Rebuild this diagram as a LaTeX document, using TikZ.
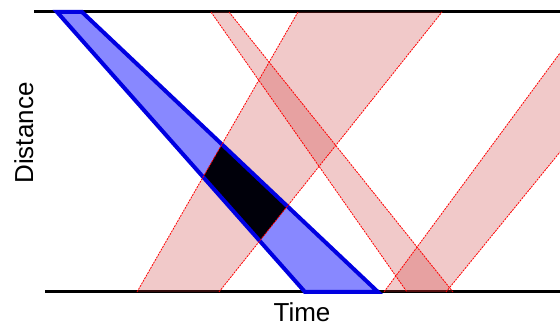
\documentclass[tikz,border=0pt]{standalone}
\usepackage{fontspec}
\setmainfont{Liberation Sans}
\definecolor{conered}{RGB}{200,40,40}
\definecolor{pulseblue}{RGB}{0,0,225}
\definecolor{pulsefill}{RGB}{136,136,255}
\begin{document}
\begin{tikzpicture}[
    x=1pt, y=-1pt,
    axisline/.style={line width=3pt},
    cone/.style={fill=conered, fill opacity=0.25},
    coneedge/.style={red, line width=0.8pt, dash pattern=on 2pt off 1pt},
    pulse/.style={fill=pulsefill},
    pulseedge/.style={draw=pulseblue, line width=4pt, line join=miter},
    axislabel/.style={font=\fontsize{26}{30}\selectfont, anchor=base}
]
\useasboundingbox (0,0) rectangle (560,331);

% corners
\coordinate (b1) at (57,12);
\coordinate (b2) at (82,12);
\coordinate (b3) at (378,292);
\coordinate (b4) at (305,292);
\coordinate (r1a) at (137,292);
\coordinate (r1b) at (219,292);
\coordinate (r1c) at (442,12);
\coordinate (r1d) at (298,12);
\coordinate (r2a) at (211,12);
\coordinate (r2b) at (229,12);
\coordinate (r2c) at (453,292);
\coordinate (r2d) at (407,292);
\coordinate (r3a) at (384,292);
\coordinate (r3b) at (446,292);
\coordinate (r3c) at (560,152);
\coordinate (r3d) at (560,53);
\coordinate (topL) at (34,12);
\coordinate (topR) at (560,12);
\coordinate (botL) at (45,292);
\coordinate (botR) at (560,292);

\draw[axisline] (topL) -- (topR);
\draw[axisline] (botL) -- (botR);

\fill[cone] (r1a) -- (r1b) -- (r1c) -- (r1d) -- cycle;
\fill[cone] (r2a) -- (r2b) -- (r2c) -- (r2d) -- cycle;
\fill[cone] (r3a) -- (r3b) -- (r3c) -- (r3d) -- cycle;

\fill[pulse] (b1) -- (b2) -- (b3) -- (b4) -- cycle;
\begin{scope}
  \clip (b1) -- (b2) -- (b3) -- (b4) -- cycle;
  \fill[black!96!blue] (r1a) -- (r1b) -- (r1c) -- (r1d) -- cycle;
\end{scope}
\draw[pulseedge] (b1) -- (b2) -- (b3) -- (b4) -- cycle;

\draw[coneedge] (r1a) -- (r1d);
\draw[coneedge] (r1b) -- (r1c);
\draw[coneedge] (r2a) -- (r2d);
\draw[coneedge] (r2b) -- (r2c);
\draw[coneedge] (r3a) -- (r3d);
\draw[coneedge] (r3b) -- (r3c);

\node[axislabel, rotate=90] (dist) at (33,133) {Distance};
\node[axislabel] (time) at (302,321) {Time};
\end{tikzpicture}
\end{document}
